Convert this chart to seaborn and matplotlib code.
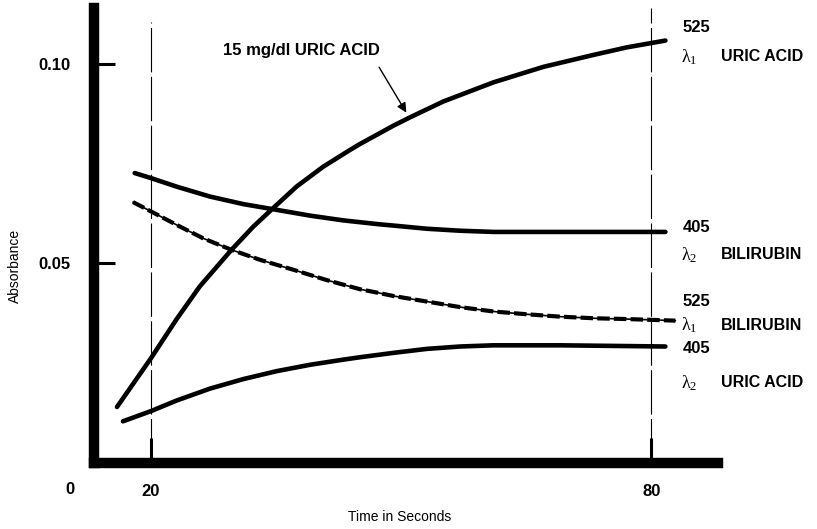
import matplotlib
matplotlib.use("Agg")
import matplotlib.pyplot as plt
import seaborn as sns

# -----------------------------
# Data (time in s, absorbance)
# -----------------------------
t_uric_525 = [15.96, 20.08, 23.08, 25.88, 29.68, 32.28, 34.68, 37.48, 40.68, 43.88,
              45.08, 49.08, 51.08, 55.08, 61.08, 67.08, 73.08, 77.08, 81.68]
a_uric_525 = [0.0138, 0.0262, 0.0358, 0.0441, 0.0533, 0.0591, 0.0638, 0.0692, 0.0742, 0.0784,
              0.0799, 0.0845, 0.0866, 0.0906, 0.0954, 0.0993, 0.1023, 0.1042, 0.1059]

t_bili_405 = [18.08, 20.08, 23.08, 27.08, 31.08, 34.68, 39.08, 43.08, 47.48, 49.08,
              53.08, 57.08, 61.08, 69.08, 81.68]
a_bili_405 = [0.0726, 0.0713, 0.0692, 0.0667, 0.0648, 0.0635, 0.0619, 0.0607, 0.0597, 0.0594,
              0.0586, 0.0581, 0.0578, 0.0578, 0.0578]

t_bili_525 = [17.88, 20.08, 23.08, 26.28, 29.68, 33.08, 37.08, 41.08, 45.08, 47.48, 49.08,
              53.08, 57.08, 61.08, 65.08, 69.08, 73.08, 77.08, 82.88]
a_bili_525 = [0.0653, 0.0629, 0.0596, 0.0562, 0.0533, 0.0508, 0.0483, 0.0457, 0.0434, 0.0424, 0.0417,
              0.0403, 0.0389, 0.0378, 0.0371, 0.0365, 0.0361, 0.0359, 0.0355]

t_uric_405 = [16.68, 20.08, 23.08, 27.08, 31.08, 35.08, 39.08, 43.08, 45.08, 49.08,
              53.08, 57.08, 61.08, 69.08, 81.68]
a_uric_405 = [0.0102, 0.0128, 0.0154, 0.0184, 0.0208, 0.0228, 0.0244, 0.0257, 0.0263, 0.0274,
              0.0284, 0.0290, 0.0293, 0.0293, 0.0290]

x_ticks = [20, 80]
y_ticks = [0.05, 0.10]
y_ticklabels = ["0.05", "0.10"]
read_times = [20, 80]

label_nm = ["525", "405", "525", "405"]
label_lambda = [r"$\mathregular{\lambda_1}$", r"$\mathregular{\lambda_2}$",
                r"$\mathregular{\lambda_1}$", r"$\mathregular{\lambda_2}$"]
label_name = ["URIC ACID", "BILIRUBIN", "BILIRUBIN", "URIC ACID"]
label_nm_y = [0.1091, 0.0588, 0.0402, 0.0286]
label_name_y = [0.1018, 0.0520, 0.0344, 0.0199]

# -----------------------------
# Style
# -----------------------------
sns.set_style("white")
plt.rcParams["font.family"] = ["Liberation Sans", "DejaVu Sans"]
plt.rcParams["text.color"] = "black"
plt.rcParams["xtick.color"] = "black"
plt.rcParams["ytick.color"] = "black"
plt.rcParams["xtick.labelcolor"] = "black"
plt.rcParams["ytick.labelcolor"] = "black"

fig = plt.figure(figsize=(8.17, 5.29), dpi=100)
ax = fig.add_axes([0.115, 0.125, 0.764, 0.86])

# -----------------------------
# Curves
# -----------------------------
line_kw = dict(ax=ax, color="black", sort=False, estimator=None,
               solid_capstyle="round", solid_joinstyle="round")
sns.lineplot(x=t_uric_525, y=a_uric_525, lw=3.3, **line_kw)
sns.lineplot(x=t_bili_405, y=a_bili_405, lw=3.3, **line_kw)
sns.lineplot(x=t_uric_405, y=a_uric_405, lw=3.3, **line_kw)
sns.lineplot(x=t_bili_525, y=a_bili_525, lw=1.2, **line_kw)
sns.lineplot(x=t_bili_525, y=a_bili_525, lw=3.0, linestyle=(0, (3, 1)), ax=ax,
             color="black", sort=False, estimator=None)

# reading times
for t in read_times:
    ax.axvline(t, ymin=0.0, ymax=0.97 if t == 20 else 1.0, color="black",
               lw=0.8, linestyle=(0, (40, 4)))

# -----------------------------
# Axes
# -----------------------------
ax.set_xlim(13.2, 88.0)
ax.set_ylim(-0.00025, 0.1141)

for side in ["top", "right"]:
    ax.spines[side].set_visible(False)
for side in ["left", "bottom"]:
    ax.spines[side].set_linewidth(7.5)
    ax.spines[side].set_color("black")
    ax.spines[side].set_capstyle("projecting")

ax.set_xticks(x_ticks)
ax.set_xticklabels([str(v) for v in x_ticks], fontsize=12, fontweight="bold")
ax.set_yticks(y_ticks)
ax.set_yticklabels(y_ticklabels, fontsize=12, fontweight="bold")
ax.tick_params(axis="x", bottom=True, direction="in", length=18, width=2.2, pad=15)
ax.tick_params(axis="y", left=True, direction="in", length=15, width=2.2, pad=17)

ax.set_xlabel("")
ax.set_ylabel("")
fig.text(70 / 817, 1 - 490 / 529, "0", fontsize=12, fontweight="bold", ha="center", va="center")
fig.text(400 / 817, 1 - 517 / 529, "Time in Seconds", fontsize=10, ha="center", va="center")
fig.text(15 / 817, 1 - 266 / 529, "Absorbance", fontsize=10, rotation=90, ha="center", va="center")

# -----------------------------
# Annotations
# -----------------------------
ax.text(38.1, 0.1035, "15 mg/dl URIC ACID", fontsize=12, fontweight="bold", ha="center", va="center")
ax.annotate("", xy=(50.8, 0.0872), xytext=(47.2, 0.0998),
            arrowprops=dict(arrowstyle="-|>", color="black", lw=1.0, mutation_scale=14))

for nm, lam, name, y1, y2 in zip(label_nm, label_lambda, label_name, label_nm_y, label_name_y):
    ax.text(83.7, y1, nm, fontsize=12, fontweight="bold", ha="left", va="center")
    ax.text(83.5, y2, lam, fontsize=13, family="Liberation Serif", ha="left", va="center")
    ax.text(88.3, y2, name, fontsize=11.5, fontweight="bold", ha="left", va="center")

fig.savefig("out.png", dpi=100)
plt.close(fig)
